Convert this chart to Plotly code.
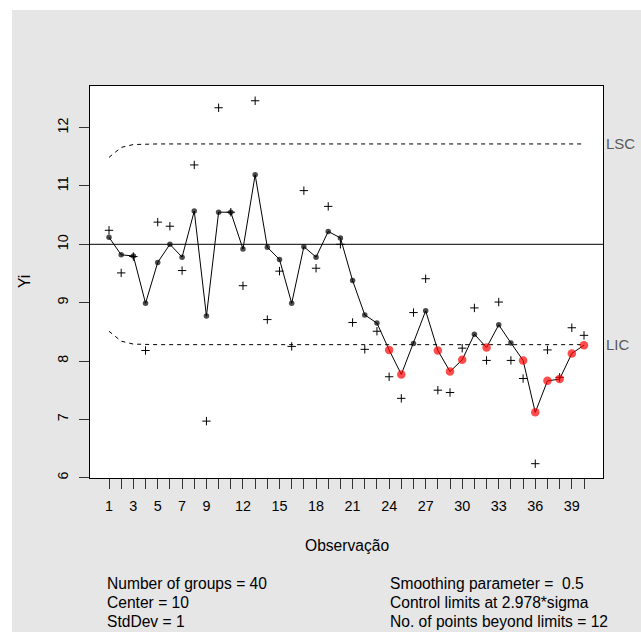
import plotly.graph_objects as go

# ---- data ----
obs = list(range(1, 41))
raw = [10.24, 9.51, 9.79, 8.18, 10.38, 10.31, 9.55, 11.36, 6.97, 12.34,
       10.55, 9.29, 12.46, 8.71, 9.54, 8.25, 10.92, 9.59, 10.65, 10.00,
       8.66, 8.20, 8.51, 7.73, 7.36, 8.83, 9.41, 7.50, 7.46, 8.22,
       8.91, 8.01, 9.01, 8.01, 7.70, 6.24, 8.19, 7.72, 8.57, 8.44]
ewma = [10.12, 9.82, 9.80, 8.99, 9.69, 10.00, 9.78, 10.57, 8.77, 10.55,
        10.55, 9.92, 11.19, 9.95, 9.74, 8.99, 9.96, 9.78, 10.22, 10.11,
        9.38, 8.79, 8.65, 8.19, 7.77, 8.30, 8.86, 8.18, 7.82, 8.02,
        8.46, 8.23, 8.62, 8.31, 8.01, 7.12, 7.66, 7.69, 8.13, 8.27]
ucl = [11.49, 11.66, 11.71] + [11.72] * 37
lcl = [8.51, 8.34, 8.29] + [8.28] * 37
center = 10
x_tick_labels = [1, 3, 5, 7, 9, 12, 15, 18, 21, 24, 27, 30, 33, 36, 39]
y_ticks = [6, 7, 8, 9, 10, 11, 12]
stats_left = ["Number of groups = 40", "Center = 10", "StdDev = 1"]
stats_right = ["Smoothing parameter =  0.5", "Control limits at 2.978*sigma",
               "No. of points beyond limits = 12"]

FONT = "Liberation Sans, Arial, Helvetica, sans-serif"
GREY_BG = "#E6E6E6"
TXT = 15.6
TICK = 14.4

W, H = 641, 632
L, R, T, B = 90, 38, 86, 154
pw, ph = W - L - R, H - T - B

viol = [(z < lo) or (z > hi) for z, lo, hi in zip(ewma, lcl, ucl)]
mcolors = ["red" if v else "black" for v in viol]
msizes = [8.5 if v else 5.5 for v in viol]

fig = go.Figure()

# control limits (dashed)
for lim in (ucl, lcl):
    fig.add_trace(go.Scatter(x=obs, y=lim, mode="lines",
                             line=dict(color="black", width=1, dash="4px,4px"),
                             hoverinfo="skip", showlegend=False))

# raw observations (+)
fig.add_trace(go.Scatter(x=obs, y=raw, mode="markers",
                         marker=dict(symbol="cross-thin", size=6,
                                     line=dict(color="black", width=1)),
                         showlegend=False))

# EWMA statistic
fig.add_trace(go.Scatter(x=obs, y=ewma, mode="lines+markers",
                         line=dict(color="black", width=1),
                         marker=dict(color=mcolors, size=msizes, line=dict(width=0)),
                         showlegend=False))

shapes = [
    # center line
    dict(type="line", xref="paper", yref="y", x0=0, x1=1, y0=center, y1=center,
         line=dict(color="black", width=1), layer="above"),
    # white border strips at left and top of the image
    dict(type="rect", xref="paper", yref="paper",
         x0=-L / pw - 0.01, x1=(12 - L) / pw, y0=-B / ph - 0.01, y1=1 + T / ph + 0.01,
         fillcolor="white", line=dict(width=0), layer="below"),
    dict(type="rect", xref="paper", yref="paper",
         x0=-L / pw - 0.01, x1=1 + R / pw + 0.01, y0=1 + (T - 10) / ph, y1=1 + T / ph + 0.01,
         fillcolor="white", line=dict(width=0), layer="below"),
]

annotations = [
    dict(text="Observação", xref="paper", yref="paper", x=0.5, y=0,
         xanchor="center", yanchor="middle", yshift=-(545 - 478), showarrow=False,
         font=dict(size=TXT, color="black", family=FONT)),
    dict(text="Yi", xref="paper", yref="paper", x=0, y=0.5,
         xanchor="center", yanchor="middle", xshift=24 - L, showarrow=False,
         textangle=-90, font=dict(size=TXT, color="black", family=FONT)),
    dict(text="LSC", xref="paper", yref="y", x=1, y=ucl[-1], xanchor="left",
         yanchor="middle", xshift=1, showarrow=False,
         font=dict(size=15, color="#595959", family=FONT)),
    dict(text="LIC", xref="paper", yref="y", x=1, y=lcl[-1], xanchor="left",
         yanchor="middle", xshift=1, showarrow=False,
         font=dict(size=15, color="#595959", family=FONT)),
]
rows_y = [583, 602, 621]
for txt, yy in zip(stats_left, rows_y):
    annotations.append(dict(text=txt, xref="paper", yref="paper", x=0, y=0,
                            xanchor="left", yanchor="middle", xshift=108 - L - 3,
                            yshift=-(yy - 478), showarrow=False,
                            font=dict(size=TXT, color="black", family=FONT)))
for txt, yy in zip(stats_right, rows_y):
    annotations.append(dict(text=txt, xref="paper", yref="paper", x=0, y=0,
                            xanchor="left", yanchor="middle", xshift=391 - L - 3,
                            yshift=-(yy - 478), showarrow=False,
                            font=dict(size=TXT, color="black", family=FONT)))

fig.update_layout(
    width=W, height=H,
    margin=dict(l=L, r=R, t=T, b=B, pad=0),
    paper_bgcolor=GREY_BG, plot_bgcolor="white",
    font=dict(family=FONT, size=TXT, color="black"),
    shapes=shapes, annotations=annotations, showlegend=False,
    hovermode=False,
    xaxis=dict(range=[-0.56, 41.56], tickmode="array", tickvals=obs,
               ticktext=[str(v) if v in x_tick_labels else "" for v in obs],
               ticks="outside", ticklen=10, tickwidth=1, tickcolor="#333333",
               showline=True, mirror=True, linecolor="black", linewidth=1,
               showgrid=False, zeroline=False, automargin=False,
               ticklabelstandoff=5,
               tickfont=dict(size=TICK, color="black", family=FONT)),
    yaxis=dict(range=[5.995, 12.713], tickmode="array", tickvals=y_ticks,
               ticks="outside", ticklen=10, tickwidth=1, tickcolor="#333333",
               tickangle=-90,
               showline=True, mirror=True, linecolor="black", linewidth=1,
               showgrid=False, zeroline=False, automargin=False,
               ticklabelstandoff=5,
               tickfont=dict(size=TICK, color="black", family=FONT)),
)

fig.write_html("out.html", config={"displayModeBar": False},
               post_script="document.body.style.margin='0';document.body.style.padding='0';")
